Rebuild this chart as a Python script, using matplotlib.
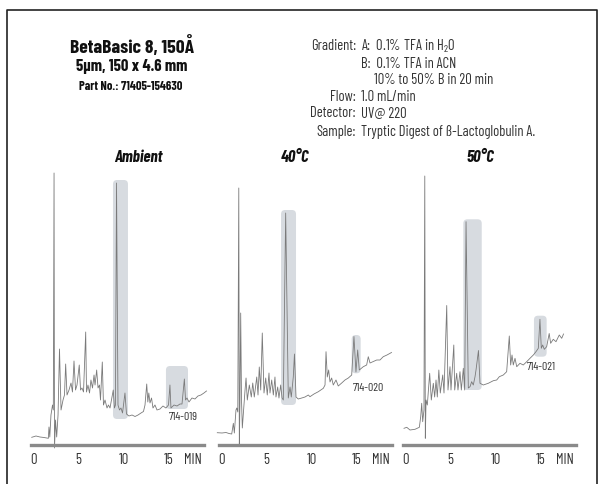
import matplotlib
matplotlib.use("Agg")
import matplotlib.pyplot as plt
from matplotlib.patches import FancyBboxPatch

plt.rcParams['font.family'] = ['Barlow Condensed', 'Roboto Condensed', 'DejaVu Sans']
plt.rcParams['font.stretch'] = 'condensed'

W, H = 602, 484

# retention time (min) and detector signal (a.u.)
amb_t = [-0.14, 0.33, 0.77, 1.21, 1.69, 1.76, 1.85, 1.98, 2.15, 2.24, 2.32, 2.37, 2.48, 2.61,
         2.76, 2.92, 3.09, 3.31, 3.47, 3.6, 3.75, 3.97, 4.19, 4.35, 4.52, 4.69, 4.85, 5.1,
         5.24, 5.4, 5.57, 5.81, 5.9, 6.06, 6.23, 6.39, 6.56, 6.73, 6.84, 7.02, 7.17, 7.33,
         7.44, 7.64, 7.77, 7.94, 8.16, 8.32, 8.49, 8.65, 8.85, 8.98, 9.09, 9.21, 9.37, 9.54,
         9.7, 9.87, 10.14, 10.31, 10.58, 10.92, 11.25, 11.58, 11.91, 12.18, 12.35, 12.54,
         12.66, 12.77, 12.9, 13.07, 13.23, 13.45, 13.67, 14.0, 14.33, 14.66, 14.94, 15.1,
         15.21, 15.55, 15.88, 16.21, 16.43, 16.69, 16.82, 16.98, 17.2, 17.53, 17.86, 18.19,
         18.52, 18.85, 19.13]
amb_s = [7.7, 9, 8, 7.5, 6.7, 18, 8, 30, 40, 35, 272, -3, 25, 8,
         30, 96, 35, 45, 50, 81, 50, 55, 62, 53, 84, 55, 60, 80,
         55, 57, 53, 113, 53, 60, 52, 65, 57, 70, 60, 75, 57, 60,
         45, 83, 40, 45, 37, 40, 37, 45, 55, 37, 40, 262, 40, 35,
         37, 32, 52, 31, 29, 30, 28.5, 30, 32, 33.5, 40, 61,
         43, 52, 42, 47, 37, 40, 35, 36, 39, 37, 40, 60,
         37, 40, 39, 41, 41, 66, 45, 47, 43, 47, 46, 49,
         50, 52, 54]

c40_t = [-0.41, 0.11, 0.55, 0.88, 1.18, 1.36, 1.47, 1.65, 1.74, 1.85, 1.96, 2.02, 2.09, 2.17,
         2.26, 2.35, 2.57, 2.65, 2.76, 2.9, 3.12, 3.34, 3.5, 3.67, 3.94, 4.08, 4.22, 4.38,
         4.55, 4.74, 4.93, 5.1, 5.29, 5.4, 5.59, 5.77, 5.95, 6.06, 6.25, 6.39, 6.58, 6.73,
         6.87, 7.13, 7.42, 7.61, 7.75, 7.97, 8.1, 8.27, 8.52, 8.9, 9.26, 9.63, 9.81, 10.25,
         10.73, 11.28, 11.47, 11.58, 11.72, 11.87, 12.02, 12.2, 12.38, 12.68, 12.93, 13.31,
         13.67, 14.04, 14.41, 14.66, 14.88, 15.07, 15.25, 15.69, 16.06, 16.24, 16.43, 17.17,
         17.53, 17.89, 18.3, 18.8]
c40_s = [12.3, 12, 12.5, 11.5, 11, 21.7, 12, 35, 37, 33, 257, -1, 45, 132,
         45, 17, 45, 55, 67, 45, 60, 48, 62, 48, 68, 50, 78, 55,
         112, 52, 67, 50, 72, 52, 65, 50, 68, 48, 58, 47, 60, 47,
         45, 232, 47, 58, 48, 68, 91, 48, 46, 47, 48, 50, 48.3, 51,
         53.3, 56.7, 60, 93.3, 68, 75, 63, 67, 60, 65, 59, 62,
         65, 67, 70, 108.5, 73, 95, 75, 78.3, 80, 88.3, 82, 85,
         85, 88.3, 90, 92.5]

c50_t = [-0.11, 0.19, 0.55, 1.1, 1.58, 1.73, 1.84, 1.95, 2.09, 2.18, 2.24, 2.32, 2.46, 2.72,
         2.9, 3.12, 3.27, 3.42, 3.56, 3.73, 3.89, 4.16, 4.3, 4.6, 4.74, 4.96, 5.07, 5.38,
         5.48, 5.7, 5.84, 6.06, 6.21, 6.43, 6.58, 6.73, 6.98, 7.17, 7.35, 7.53, 7.72, 7.83,
         8.1, 8.27, 8.63, 9.18, 9.74, 10.11, 10.4, 10.84, 11.21, 11.5, 11.65, 11.8, 11.94,
         12.13, 12.32, 12.68, 13.04, 13.42, 13.78, 14.15, 14.44, 14.7, 14.88, 15.03, 15.18,
         15.36, 15.62, 15.9, 16.06, 16.35, 16.65, 17.01, 17.28, 17.48]
c50_s = [16.7, 17.7, 15, 15.7, 17.7, 28.3, 41.7, 23.3, 35, 269, 6.7, 45, 40, 71.7,
         45, 61.7, 48, 65, 48, 75, 52, 70, 52, 139.5, 55, 78.3, 55, 100,
         55, 71.7, 55, 73.3, 55, 76.7, 55, 223.3, 57, 58.3, 63.3, 60, 68.3, 75,
         94.5, 61.7, 60, 61.7, 64.3, 65, 68.3, 70, 73.3, 109, 80, 90, 80,
         86.7, 78.3, 81.7, 80, 83.3, 86.7, 90, 93.3, 96.7, 125.7, 96.7, 100,
         95.7, 98.3, 111.5, 101.7, 105.7, 103.3, 110, 106.7, 111]

titles = ["Ambient", "40°C", "50°C"]
codes = ["714-019", "714-020", "714-021"]
traces = [(amb_t, amb_s), (c40_t, c40_s), (c50_t, c50_s)]
# highlighted regions: (t0, t1, s0, s1)
boxes = [[(8.82, 10.47, 26, 265), (14.66, 17.09, 36, 79)],
         [(6.62, 8.27, 40, 235), (14.41, 15.4, 71.7, 110)],
         [(6.43, 8.46, 55, 225.7), (14.22, 15.62, 88.3, 129.3)]]
code_pos = [(16.54, 28), (16.2, 57), (15.07, 78)]
tick_vals = [0, 5, 10, 15, 17.6]
tick_text = ["0", "5", "10", "15", "MIN"]


def fx(x):
    return x / W


def fy(y):
    return 1 - y / H


fig = plt.figure(figsize=(6.02, 4.84), dpi=100)

# frame around the figure
fig.add_artist(plt.Line2D([fx(7), fx(7), fx(597), fx(597)], [0, fy(10), fy(10), 0],
                          color="#222222", lw=1.2))

# header
fig.text(fx(132), fy(47), "BetaBasic 8, 150Å", ha="center", va="center",
         fontsize=14, fontweight="bold", color="#111111")
fig.text(fx(132), fy(66), "5µm, 150 x 4.6 mm", ha="center", va="center",
         fontsize=12, fontweight="bold", color="#111111")
fig.text(fx(131), fy(87), "Part No.: 71405-154630", ha="center", va="center",
         fontsize=9, fontweight="bold", color="#111111")

info_c = "#333333"
rows = [(46, "Gradient:", r"A:  0.1% TFA in $\mathregular{H_2O}$", 361),
        (64, "", "B:  0.1% TFA in ACN", 361),
        (80, "", "10% to 50% B in 20 min", 374),
        (97, "Flow:", "1.0 mL/min", 361),
        (113, "Detector:", "UV@ 220", 361),
        (132, "Sample:", "Tryptic Digest of ß-Lactoglobulin A.", 361)]
for y, lab, val, x in rows:
    if lab:
        fig.text(fx(356), fy(y), lab, ha="right", va="center", fontsize=10.5, color=info_c)
    fig.text(fx(x), fy(y), val, ha="left", va="center", fontsize=10.5, color=info_c)

lefts = [31.2, 219.2, 403.2]
title_x = [138, 295, 480]
for i in range(3):
    ax = fig.add_axes([fx(lefts[i]), fy(445), 173.2 / W, 280 / H])
    ax.set_xlim(-0.2, 18.9)
    ax.set_ylim(0, 280)
    for t0, t1, s0, s1 in boxes[i]:
        ax.add_patch(FancyBboxPatch((t0, s0), t1 - t0, s1 - s0,
                                    boxstyle="round,pad=0,rounding_size=0.45",
                                    mutation_aspect=9.07, fc="#d7dbe0", ec="none", zorder=1))
    t, s = traces[i]
    ax.plot(t, s, color="#7a7a7a", lw=0.6, zorder=2, clip_on=False)
    ax.text(code_pos[i][0], code_pos[i][1], codes[i], ha="center", va="center",
            fontsize=8.5, color="#333333")
    for sp in ["top", "left", "right"]:
        ax.spines[sp].set_visible(False)
    ax.spines["bottom"].set_color("#8a8a8a")
    ax.spines["bottom"].set_linewidth(2.4)
    ax.set_yticks([])
    ax.set_xticks(tick_vals)
    ax.set_xticklabels(tick_text)
    ax.tick_params(axis="x", length=0, pad=6, labelsize=10.5, labelcolor="#333333")
    ax.patch.set_alpha(0)
    fig.text(fx(title_x[i]), fy(158), titles[i], ha="center", va="center",
             fontsize=12, fontweight="bold", fontstyle="italic", color="#111111")

fig.savefig("out.png", dpi=100)
